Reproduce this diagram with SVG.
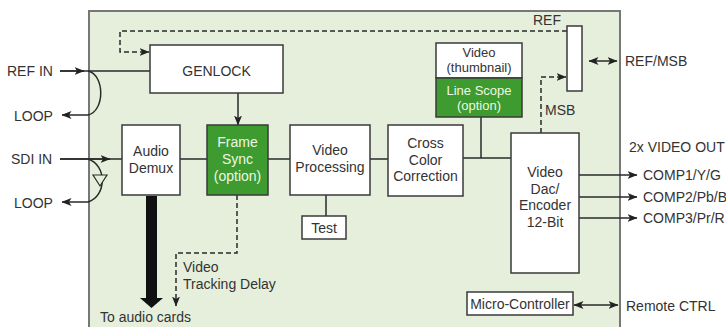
<svg xmlns="http://www.w3.org/2000/svg" width="726" height="327" viewBox="0 0 726 327">
  <defs>
    <marker id="ah" viewBox="0 0 10 8" refX="9.5" refY="4" markerWidth="10" markerHeight="8" markerUnits="userSpaceOnUse" orient="auto-start-reverse">
      <path d="M0,0 L10,4 L0,8 L2.5,4 z" fill="#222"/>
    </marker>
    <style>
      .box{fill:#fff;stroke:#3a3a3a;stroke-width:1.5}
      .opt{fill:#3d9b2f;stroke:#3a3a3a;stroke-width:1.5}
      .t{font-family:"Liberation Sans",Arial,sans-serif;font-size:14px;fill:#333}
      .s{font-size:13px}
      .c{text-anchor:middle}
      .w{fill:#eef7e6}
      .ln{fill:none;stroke:#2a2a2a;stroke-width:1.5}
      .dash{fill:none;stroke:#2a2a2a;stroke-width:1.5;stroke-dasharray:5 3}
    </style>
  </defs>

  <rect x="0" y="0" width="726" height="327" fill="#fff"/>
  <!-- card outline -->
  <rect id="card" x="89" y="11" width="531" height="340" fill="#e6efdc" stroke="#777" stroke-width="2"/>

  <!-- external labels -->
  <g id="labels">
    <text class="t" x="7" y="76">REF IN</text>
    <text class="t" x="14" y="121">LOOP</text>
    <text class="t" x="11" y="164">SDI IN</text>
    <text class="t" x="14" y="208">LOOP</text>
    <text class="t" x="533" y="25">REF</text>
    <text class="t" x="625" y="66">REF/MSB</text>
    <text class="t" x="545" y="115">MSB</text>
    <text class="t" x="629" y="152">2x VIDEO OUT</text>
    <text class="t" x="643" y="180">COMP1/Y/G</text>
    <text class="t" x="643" y="202">COMP2/Pb/B</text>
    <text class="t" x="643" y="223">COMP3/Pr/R</text>
    <text class="t" x="626" y="311">Remote CTRL</text>
    <text class="t" x="183" y="272">Video</text>
    <text class="t" x="183" y="289">Tracking Delay</text>
    <text class="t" x="100" y="322">To audio cards</text>
  </g>

  <!-- connectors -->
  <g id="connectors">
    <path class="ln" d="M60,71 H150"/>
    <path class="ln" d="M60,71 H84" marker-end="url(#ah)"/>
    <path class="ln" d="M88,71 C105,75 105,111 88,115 H62" marker-end="url(#ah)"/>
    <path class="ln" d="M238,93 V125" marker-end="url(#ah)"/>
    <path class="ln" d="M60,159 H122"/>
    <path class="ln" d="M60,159 H110" marker-end="url(#ah)"/>
    <path class="ln" d="M88,159 C107,165 107,196 88,202 H62" marker-end="url(#ah)"/>
    <polygon points="93,175 107,175 100,186" fill="#e6efdc" stroke="#2a2a2a" stroke-width="1.2"/>
    <path class="ln" d="M180,159 H207"/>
    <path class="ln" d="M268,159 H290"/>
    <path class="ln" d="M370,159 H388"/>
    <path class="ln" d="M463,158 H511"/>
    <path class="ln" d="M481,117 V158"/>
    <path class="ln" d="M326,195 V216"/>
    <path class="ln" d="M579,175 H637" marker-end="url(#ah)"/>
    <path class="ln" d="M579,197 H637" marker-end="url(#ah)"/>
    <path class="ln" d="M579,218 H637" marker-end="url(#ah)"/>
    <path class="ln" d="M574,305 H618" marker-start="url(#ah)" marker-end="url(#ah)"/>
    <path class="ln" d="M589,61 H617" marker-start="url(#ah)" marker-end="url(#ah)"/>
    <path class="dash" d="M567,31 H120 V52 H149" marker-end="url(#ah)"/>
    <path class="dash" d="M541,133 V77 H566" marker-end="url(#ah)"/>
    <path class="dash" d="M237,195 V253 H176 V306" marker-end="url(#ah)"/>
    <!-- audio bus -->
    <rect x="146" y="196" width="11" height="103" fill="#111"/>
    <polygon points="140,298 163,298 151.5,308" fill="#111"/>
  </g>

  <g id="genlock">
    <rect class="box" x="150" y="45" width="133" height="48"/>
    <text class="t c" x="216.5" y="76">GENLOCK</text>
  </g>
  <g id="audio-demux">
    <rect class="box" x="122" y="125" width="58" height="70"/>
    <text class="t c" x="151" y="156">Audio</text>
    <text class="t c" x="151" y="173">Demux</text>
  </g>
  <g id="frame-sync">
    <rect class="opt" x="207" y="125" width="61" height="70"/>
    <text class="t c w" x="237.5" y="147">Frame</text>
    <text class="t c w" x="237.5" y="164">Sync</text>
    <text class="t c w" x="237.5" y="181">(option)</text>
  </g>
  <g id="video-processing">
    <rect class="box" x="290" y="125" width="80" height="70"/>
    <text class="t c" x="330" y="155">Video</text>
    <text class="t c" x="330" y="172">Processing</text>
  </g>
  <g id="test">
    <rect class="box" x="302" y="216" width="44" height="23"/>
    <text class="t c" x="324" y="233">Test</text>
  </g>
  <g id="cross-color">
    <rect class="box" x="388" y="125" width="75" height="71"/>
    <text class="t c" x="425.5" y="148">Cross</text>
    <text class="t c" x="425.5" y="165">Color</text>
    <text class="t c" x="425.5" y="181">Correction</text>
  </g>
  <g id="thumbnail">
    <rect class="box" x="436" y="43" width="86" height="35"/>
    <text class="t s c" x="479" y="57">Video</text>
    <text class="t s c" x="479" y="72">(thumbnail)</text>
  </g>
  <g id="line-scope">
    <rect class="opt" x="436" y="78" width="86" height="39"/>
    <text class="t s c w" x="479" y="95">Line Scope</text>
    <text class="t s c w" x="479" y="110">(option)</text>
  </g>
  <g id="ref-msb">
    <rect class="box" x="567" y="26" width="15" height="65"/>
  </g>
  <g id="video-dac">
    <rect class="box" x="511" y="133" width="68" height="140"/>
    <text class="t c" x="545" y="177">Video</text>
    <text class="t c" x="545" y="194">Dac/</text>
    <text class="t c" x="545" y="210">Encoder</text>
    <text class="t c" x="545" y="227">12-Bit</text>
  </g>
  <g id="micro-controller">
    <rect class="box" x="467" y="292" width="106" height="23"/>
    <text class="t c" x="520" y="309">Micro-Controller</text>
  </g>
</svg>
